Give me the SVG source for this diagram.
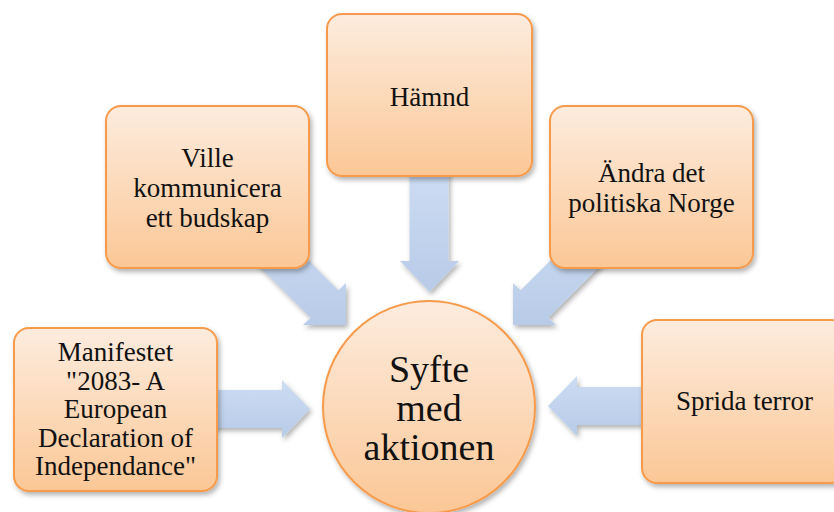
<svg xmlns="http://www.w3.org/2000/svg" width="834" height="512" viewBox="0 0 834 512">
<defs>
<linearGradient id="gOrange" x1="0" y1="0" x2="0" y2="1">
<stop offset="0" stop-color="#fdecde"/>
<stop offset="1" stop-color="#fbc796"/>
</linearGradient>
<linearGradient id="gBlue" x1="0" y1="0" x2="0" y2="1">
<stop offset="0" stop-color="#ccdcf3"/>
<stop offset="1" stop-color="#b8cbe7"/>
</linearGradient>
<filter id="sh" x="-20%" y="-20%" width="140%" height="140%">
<feDropShadow dx="2" dy="3" stdDeviation="2.5" flood-color="#000" flood-opacity="0.3"/>
</filter>
</defs>
<style>
.box{fill:url(#gOrange);stroke:#f79a4a;stroke-width:2;filter:url(#sh)}
.arrow{fill:url(#gBlue);stroke:none;filter:url(#sh)}
.t{font-family:"Liberation Serif","DejaVu Serif",serif;font-size:27px;fill:#111;text-anchor:middle}
.big{font-size:38px}
</style>
<g id="connectors">
<polygon class="arrow" points="409.5,170 448.5,170 448.5,261 459,261 429.5,292 400,261 409.5,261"/>
<polygon class="arrow" points="210,390 282,390 282,380 310,409 282,438 282,428 210,428"/>
<polygon class="arrow" points="650,387 577,387 577,376 548,406 577,436 577,425 650,425"/>
<polygon class="arrow" points="263.8,215.7 338.3,290.2 346,283 346,325 303,325 310.7,317.8 236.2,243.3"/>
<polygon class="arrow" points="595.2,215.7 520.7,290.2 513,283 513,325 556,325 548.3,317.8 622.8,243.3"/>
</g>
<g id="node-hamnd">
<rect class="box" x="327" y="14" width="205" height="162" rx="15"/>
<text class="t" x="429.5" y="106">Hämnd</text>
</g>
<g id="node-ville">
<rect class="box" x="106" y="106" width="203" height="162" rx="15"/>
<text class="t" x="207.5" y="167">Ville</text>
<text class="t" x="207.5" y="197">kommunicera</text>
<text class="t" x="207.5" y="227">ett budskap</text>
</g>
<g id="node-andra">
<rect class="box" x="550" y="106" width="203" height="162" rx="15"/>
<text class="t" x="651.5" y="182">Ändra det</text>
<text class="t" x="651.5" y="212">politiska Norge</text>
</g>
<g id="node-manifestet">
<rect class="box" x="14" y="328" width="203" height="163" rx="15"/>
<text class="t" x="115.5" y="361">Manifestet</text>
<text class="t" x="115.5" y="389.5">"2083- A</text>
<text class="t" x="115.5" y="418">European</text>
<text class="t" x="115.5" y="446.5">Declaration of</text>
<text class="t" x="115.5" y="475">Independance"</text>
</g>
<g id="node-sprida">
<rect class="box" x="642" y="320" width="205" height="163" rx="15"/>
<text class="t" x="744.5" y="410">Sprida terror</text>
</g>
<g id="node-syfte">
<circle class="box" cx="429" cy="407" r="106"/>
<text class="t big" x="429" y="382">Syfte</text>
<text class="t big" x="429" y="421">med</text>
<text class="t big" x="429" y="460">aktionen</text>
</g>
</svg>
